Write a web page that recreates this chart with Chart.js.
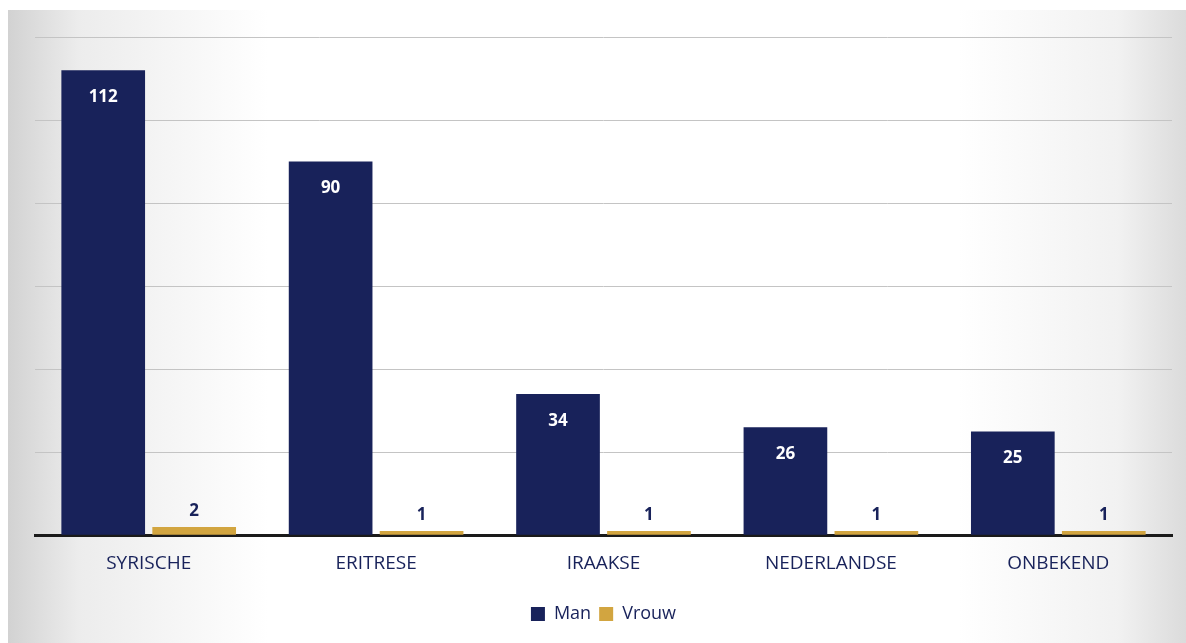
<!DOCTYPE html>
<html>
<head>
<meta charset="utf-8">
<script src="https://cdn.jsdelivr.net/npm/chart.js@4.4.0/dist/chart.umd.min.js"></script>
<style>
  html, body { margin: 0; padding: 0; background: #fff; }
  #wrap {
    position: absolute; left: 8px; top: 10px; width: 1178px; height: 633px;
    background:
      linear-gradient(to right, rgba(205,205,205,0.9) 0, rgba(228,228,228,0.7) 70px, rgba(255,255,255,0) 260px, rgba(255,255,255,0) 950px, rgba(228,228,228,0.5) 1110px, rgba(210,210,210,0.8) 1178px),
      #fff;
  }
  #chart { position: absolute; left: -8px; top: -10px; }
</style>
</head>
<body>
<div id="wrap">
  <canvas id="chart" width="1186" height="643"></canvas>
</div>
<script>
const categories = ['SYRISCHE', 'ERITRESE', 'IRAAKSE', 'NEDERLANDSE', 'ONBEKEND'];
const manValues = [112, 90, 34, 26, 25];
const vrouwValues = [2, 1, 1, 1, 1];

const navy = '#18225a';
const gold = '#d2a540';

// value labels: inside the top for Man, above the bar for Vrouw
const valueLabels = {
  id: 'valueLabels',
  afterDatasetsDraw(chart) {
    const ctx = chart.ctx;
    ctx.save();
    ctx.font = 'bold 17px "Open Sans", sans-serif';
    ctx.textAlign = 'center';
    ctx.textBaseline = 'middle';
    chart.data.datasets.forEach(function (ds, i) {
      const meta = chart.getDatasetMeta(i);
      meta.data.forEach(function (bar, j) {
        if (i === 0) {
          ctx.fillStyle = '#ffffff';
          ctx.fillText(ds.data[j], bar.x, bar.y + 27);
        } else {
          ctx.fillStyle = navy;
          ctx.fillText(ds.data[j], bar.x, bar.y - 16);
        }
      });
    });
    ctx.restore();
  }
};

new Chart(document.getElementById('chart'), {
  type: 'bar',
  data: {
    labels: categories,
    datasets: [
      { label: 'Man', data: manValues, backgroundColor: navy },
      { label: 'Vrouw', data: vrouwValues, backgroundColor: gold }
    ]
  },
  options: {
    responsive: false,
    animation: false,
    devicePixelRatio: 1,
    categoryPercentage: 0.8,
    barPercentage: 0.92,
    layout: { padding: { left: 35, right: 14, top: 37, bottom: 10 } },
    scales: {
      x: {
        grid: { display: false },
        border: { display: true, color: '#1a1a1a', width: 3 },
        ticks: { color: navy, font: { family: '"Open Sans", sans-serif', size: 19 }, padding: 9 },
        afterFit: function (scale) { scale.height += 13; }
      },
      y: {
        min: 0,
        max: 120,
        ticks: { display: false, stepSize: 20 },
        grid: { color: '#c4c4c4', lineWidth: 1, drawTicks: false },
        border: { display: false }
      }
    },
    plugins: {
      legend: {
        position: 'bottom',
        labels: {
          color: navy,
          font: { family: '"Open Sans", sans-serif', size: 18 },
          boxWidth: 14,
          boxHeight: 14,
          padding: 8
        }
      },
      tooltip: { enabled: false }
    }
  },
  plugins: [valueLabels]
});
</script>
</body>
</html>
